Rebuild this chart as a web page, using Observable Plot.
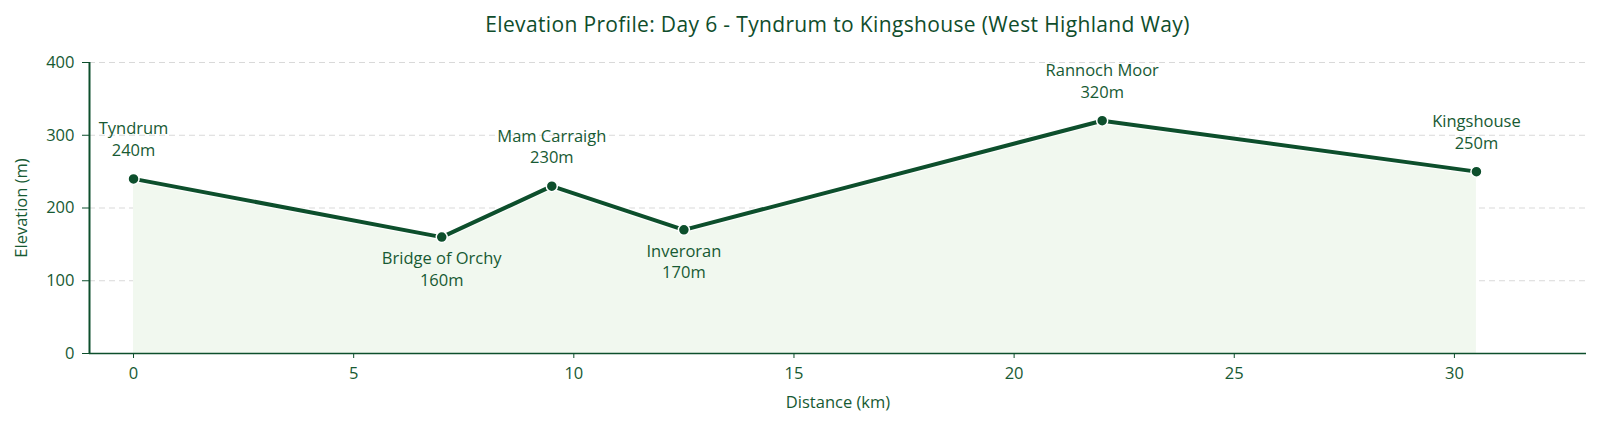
<!DOCTYPE html>
<html>
<head>
<meta charset="utf-8">
<script src="https://cdn.jsdelivr.net/npm/d3@7"></script>
<script src="https://cdn.jsdelivr.net/npm/@observablehq/plot@0.6"></script>
<style>
  html, body { margin: 0; padding: 0; background: #fff; }
  #title { height: 45px; box-sizing: border-box; padding: 11px 14px 0 89px; text-align: center;
    font-family: "Open Sans", Roboto, sans-serif; font-size: 21px; line-height: 26px; color: #0f4d2c; letter-spacing: 0.35px; }
  #chart svg { display: block; }
</style>
</head>
<body>
<div id="title">Elevation Profile: Day 6 - Tyndrum to Kingshouse (West Highland Way)</div>
<div id="chart"></div>
<script>
const places = ["Tyndrum", "Bridge of Orchy", "Mam Carraigh", "Inveroran", "Rannoch Moor", "Kingshouse"];
const distanceKm = [0, 7, 9.5, 12.5, 22, 30.5];
const elevationM = [240, 160, 230, 170, 320, 250];
const labelAbove = [true, false, true, false, true, true];
const xTicks = [0, 5, 10, 15, 20, 25, 30];
const yTicks = [0, 100, 200, 300, 400];

const data = places.map((p, i) => ({
  place: p, d: distanceKm[i], e: elevationM[i], above: labelAbove[i],
  label: p + "\n" + elevationM[i] + "m"
}));

const dark = "#0d4f2c";
const textCol = "#175a33";

const chart = Plot.plot({
  width: 1600,
  height: 381,
  marginLeft: 89,
  marginRight: 14,
  marginTop: 17,
  marginBottom: 73,
  style: { fontFamily: "'Open Sans', Roboto, sans-serif", fontSize: "16px", color: textCol, background: "#fff" },
  x: { domain: [-1, 33] },
  y: { domain: [0, 400] },
  marks: [
    Plot.gridY(yTicks, { stroke: "#d9d9d9", strokeOpacity: 1, strokeDasharray: "6,4" }),
    Plot.areaY(data, { x: "d", y: "e", fill: "#f1f8ef" }),
    Plot.axisX(xTicks, { tickSize: 5, tickPadding: 9, stroke: dark, fill: textCol, fontSize: 16.5,
      label: "Distance (km)", labelAnchor: "center", labelArrow: "none", labelOffset: 54 }),
    Plot.axisY(yTicks, { tickSize: 7, tickPadding: 8, stroke: dark, fill: textCol, fontSize: 16.5,
      label: "Elevation (m)", labelAnchor: "center", labelArrow: "none", labelOffset: 74 }),
    Plot.ruleX([-1], { stroke: dark, strokeWidth: 2 }),
    Plot.ruleY([0], { stroke: dark, strokeWidth: 1.5 }),
    Plot.line(data, { x: "d", y: "e", stroke: "#fff", strokeWidth: 6.5, strokeOpacity: 0.8 }),
    Plot.line(data, { x: "d", y: "e", stroke: dark, strokeWidth: 4 }),
    Plot.dot(data, { x: "d", y: "e", r: 5.5, fill: dark, stroke: "#fff", strokeWidth: 1.5 }),
    Plot.text(data.filter(d => d.above), { x: "d", y: "e", text: "label", lineAnchor: "bottom",
      lineHeight: 1.3, dy: -23, fill: textCol, fontSize: 16.5 }),
    Plot.text(data.filter(d => !d.above), { x: "d", y: "e", text: "label", lineAnchor: "top",
      lineHeight: 1.3, dy: 12, fill: textCol, fontSize: 16.5 })
  ]
});
document.getElementById("chart").appendChild(chart);
</script>
</body>
</html>
